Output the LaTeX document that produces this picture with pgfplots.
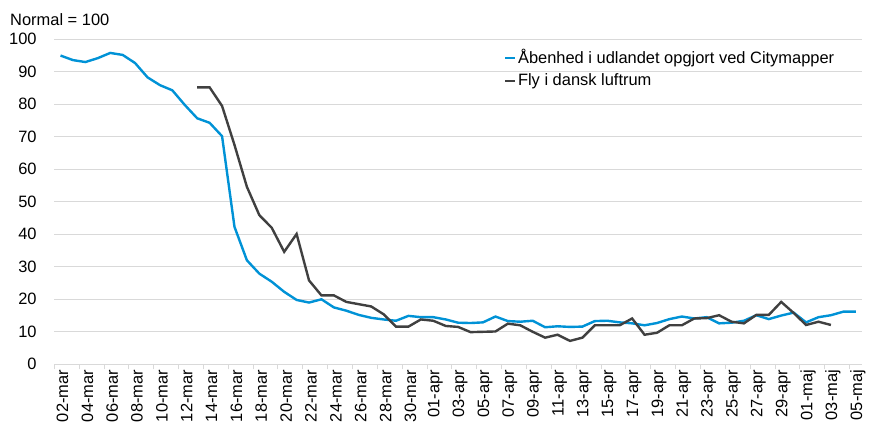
\documentclass[border=0pt]{standalone}
\usepackage{pgfplots}
\pgfplotsset{compat=1.18}
\usepackage{fontspec}
\setmainfont{Liberation Sans}
\definecolor{cmblue}{RGB}{0,146,214}
\definecolor{flygray}{RGB}{64,64,64}
\definecolor{gridgray}{RGB}{217,217,217}
\begin{document}
\fontsize{16.5}{19}\selectfont
\begin{tikzpicture}
\useasboundingbox (0,0) rectangle (870bp,426bp);
\begin{axis}[
  at={(54.3bp,61.7bp)}, anchor=south west,
  scale only axis, width=807.7bp, height=325bp,
  xmin=-0.5, xmax=64.5, ymin=0, ymax=100,
  axis line style={draw=none},
  ymajorgrids, grid style={gridgray, line width=1bp},
  ytick={0,10,...,100},
  xtick={0,2,...,64},
  xticklabels={02-mar,04-mar,06-mar,08-mar,10-mar,12-mar,14-mar,16-mar,18-mar,20-mar,22-mar,24-mar,26-mar,28-mar,30-mar,01-apr,03-apr,05-apr,07-apr,09-apr,11-apr,13-apr,15-apr,17-apr,19-apr,21-apr,23-apr,25-apr,27-apr,29-apr,01-maj,03-maj,05-maj},
  major tick length=0pt,
  minor xtick={-0.5,1.5,...,63.5},
  minor x tick style={gridgray, line width=1bp},
  minor tick length=5bp,
  tick align=outside,
  xtick pos=left, ytick pos=left,
  /pgf/number format/assume math mode=true,
  xticklabel style={rotate=90, anchor=east, yshift=-2bp},
  yticklabel style={anchor=east, xshift=-12bp},
  legend style={draw=none, fill=none, at={(0.553,0.98)}, anchor=north west, row sep=4.5bp, nodes={inner sep=1.5bp}},
  legend cell align=left,
  legend image code/.code={\draw[#1, line width=2.4bp] (0bp,0bp) -- (10bp,0bp);},
]
\addplot[cmblue, line width=2.4bp] coordinates {
(0,95.0) (1,93.6) (2,93.0) (3,94.2) (4,95.8) (5,95.2) (6,92.7) (7,88.3) (8,85.9) (9,84.3)
(10,79.8) (11,75.7) (12,74.3) (13,70.2) (14,42.3) (15,32.0) (16,27.9) (17,25.4) (18,22.3) (19,19.8)
(20,19.0) (21,20.0) (22,17.5) (23,16.5) (24,15.2) (25,14.3) (26,13.8) (27,13.4) (28,14.9) (29,14.5)
(30,14.5) (31,13.8) (32,12.8) (33,12.7) (34,12.9) (35,14.7) (36,13.3) (37,13.1) (38,13.4) (39,11.4)
(40,11.7) (41,11.5) (42,11.6) (43,13.3) (44,13.4) (45,12.9) (46,12.6) (47,12.0) (48,12.7) (49,13.9)
(50,14.7) (51,14.1) (52,14.5) (53,12.6) (54,12.8) (55,13.4) (56,15.1) (57,13.9) (58,15.0) (59,15.9)
(60,12.9) (61,14.5) (62,15.1) (63,16.2) (64,16.2)
};
\addlegendentry{Åbenhed i udlandet opgjort ved Citymapper}
\addplot[flygray, line width=2.4bp] coordinates {
(11,85.2) (12,85.2) (13,79.5) (14,67.5) (15,54.6) (16,45.9) (17,42.0) (18,34.6) (19,40.1)
(20,25.8) (21,21.2) (22,21.2) (23,19.2) (24,18.5) (25,17.8) (26,15.4) (27,11.6) (28,11.6) (29,13.8)
(30,13.4) (31,11.8) (32,11.5) (33,9.9) (34,10.0) (35,10.1) (36,12.5) (37,12.0) (38,10.0) (39,8.2)
(40,9.1) (41,7.2) (42,8.2) (43,12.0) (44,12.0) (45,12.0) (46,14.1) (47,9.1) (48,9.7) (49,12.0)
(50,12.0) (51,14.1) (52,14.2) (53,15.1) (54,13.1) (55,12.6) (56,15.2) (57,15.2) (58,19.2) (59,15.8)
(60,12.1) (61,13.1) (62,12.1)
};
\addlegendentry{Fly i dansk luftrum}
\end{axis}
\node[anchor=base west, inner sep=0pt] at (10bp,400bp) {Normal = 100};
\end{tikzpicture}
\end{document}
